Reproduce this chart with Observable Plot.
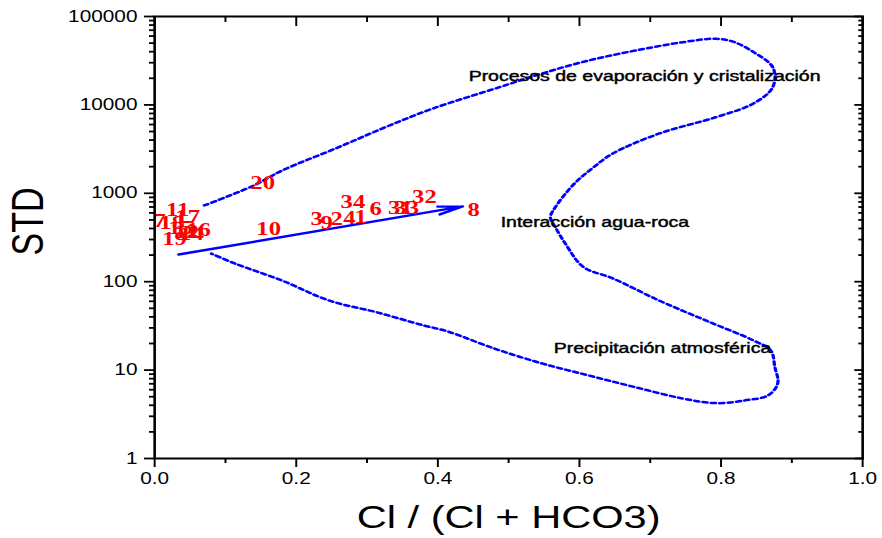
<!DOCTYPE html>
<html><head><meta charset="utf-8">
<script src="https://cdn.jsdelivr.net/npm/d3@7"></script>
<script src="https://cdn.jsdelivr.net/npm/@observablehq/plot@0.6"></script>
<style>body{margin:0;background:#fff}#chart svg{display:block}</style>
</head><body><div id="chart"></div>
<script>
// Gibbs envelope (Cl/(Cl+HCO3) vs STD)
const envelopeX = [0.070,0.140,0.180,0.260,0.326,0.393,0.487,0.547,0.613,0.679,0.746,0.793,0.819,0.846,0.873,0.873,0.846,0.793,0.713,0.647,0.620,0.593,0.566,0.559,0.566,0.580,0.606,0.647,0.713,0.780,0.846,0.870,0.876,0.880,0.866,0.833,0.793,0.746,0.679,0.613,0.547,0.480,0.413,0.380,0.314,0.247,0.180,0.113,0.080];
const envelopeY = [728,1225,1810,3325,5600,9100,15850,22650,31800,41200,51200,56000,51200,39500,26700,15850,10400,7260,4750,2820,1970,1290,697,537,414,270,146,109,61,36,21.6,16.7,10.8,7.05,5.16,4.53,4.23,4.77,6.4,8.7,11.9,17.5,27.5,32,45,61,103,161,208];

// trend arrow
const arrowStart = [0.034, 203];
const arrowEnd = [0.435, 710];

// sample labels
const sampleIds = ["20","10","3","9","2","4","1","6","34","31","33","32","8","11","17","7","18","15","12","16","14","19"];
const sampleX = [0.1525,0.161,0.229,0.243,0.257,0.275,0.291,0.312,0.280,0.347,0.356,0.381,0.4506,0.0325,0.0466,0.0071,0.024,0.0367,0.045,0.062,0.052,0.028];
const sampleY = [1325,400,519,468,519,532,546,673,807,690,690,920,656,656,546,492,468,410,370,389,351,308];

// region annotations
const regionNames = ["Procesos de evaporación y cristalización","Interacción agua-roca","Precipitación atmosférica"];
const regionX = [0.4435,0.4887,0.5636];
const regionY = [20950,468,17.5];

// ticks
const xMajorTicks = [0,0.2,0.4,0.6,0.8,1.0];
const xMinorTicks = [0.1,0.3,0.5,0.7,0.9];
const yMajorTicks = [1,10,100,1000,10000,100000];
const yMinorMultipliers = [2,3,4,5,6,7,8,9];
const yMinorTicks = yMajorTicks.slice(0,-1).flatMap(p => yMinorMultipliers.map(m => m*p));

const xTitle = "Cl / (Cl + HCO3)";
const yTitle = "STD";

const K = 1.3;           // horizontal stretch of the original rendering
const W = 882 / K;

const envelope = envelopeX.map((x,i) => ({x, y: envelopeY[i]}));
const samples = sampleIds.map((t,i) => ({t, x: sampleX[i], y: sampleY[i]}));
const regions = regionNames.map((t,i) => ({t, x: regionX[i], y: regionY[i]}));

const blank = () => "";
const plot = Plot.plot({
  width: W, height: 538,
  marginLeft: 154/K, marginRight: 20/K, marginTop: 16, marginBottom: 80,
  style: {fontFamily: "Liberation Sans, Arial, sans-serif", background: "#fff", color: "#000"},
  x: {domain: [0,1]},
  y: {type: "log", domain: [1,100000]},
  marks: [
    Plot.line(envelope, {x: "x", y: "y", stroke: "#0000ff", strokeWidth: 2.5, strokeDasharray: "3.5,3", curve: "catmull-rom"}),
    Plot.arrow([{x1: arrowStart[0], y1: arrowStart[1], x2: arrowEnd[0], y2: arrowEnd[1]}],
      {x1: "x1", y1: "y1", x2: "x2", y2: "y2", stroke: "#0000ff", strokeWidth: 2.4, headLength: 12, headAngle: 24}),
    Plot.text(samples, {x: "x", y: "y", text: "t", fill: "#ff0000", fontFamily: "Liberation Serif, Times New Roman, serif", fontSize: 19, fontWeight: "bold"}),
    Plot.text(regions, {x: "x", y: "y", text: "t", textAnchor: "start", fill: "#000", stroke: "#000", strokeWidth: 0.45, fontSize: 15}),
    Plot.axisX(xMajorTicks, {tickSize: 9, tickPadding: 5, tickFormat: d => d.toFixed(1), fontSize: 16, label: null, strokeWidth: 1.5}),
    Plot.axisX(xMinorTicks, {tickSize: 5, tickFormat: blank, label: null, strokeWidth: 1.5}),
    Plot.axisX(xMajorTicks, {anchor: "top", tickSize: -9, tickFormat: blank, label: null, strokeWidth: 1.5}),
    Plot.axisX(xMinorTicks, {anchor: "top", tickSize: -5, tickFormat: blank, label: null, strokeWidth: 1.5}),
    Plot.axisY(yMajorTicks, {tickSize: 10/K, tickPadding: 5.5, tickFormat: d => String(d), fontSize: 16, label: null, strokeWidth: 1.8}),
    Plot.axisY(yMinorTicks, {tickSize: 5/K, tickFormat: blank, label: null, strokeWidth: 1.8}),
    Plot.axisY(yMajorTicks, {anchor: "right", tickSize: -9/K, tickFormat: blank, label: null, strokeWidth: 1.8}),
    Plot.axisY(yMinorTicks, {anchor: "right", tickSize: -5/K, tickFormat: blank, label: null, strokeWidth: 1.8}),
    Plot.frame({stroke: "#000", strokeWidth: 2}),
    Plot.text([xTitle], {frameAnchor: "bottom", dy: 59, fontSize: 32, lineAnchor: "middle", fill: "#000"}),
    Plot.text([yTitle], {frameAnchor: "left", rotate: -90, dx: -(154-28)/K, dy: 18, fontSize: 34, fill: "#000"})
  ]
});
plot.setAttribute("width", 882);
plot.setAttribute("height", 538);
plot.setAttribute("preserveAspectRatio", "none");
plot.style.maxWidth = "none";
plot.style.width = "882px";
plot.style.height = "538px";
document.getElementById("chart").append(plot);
</script></body></html>
